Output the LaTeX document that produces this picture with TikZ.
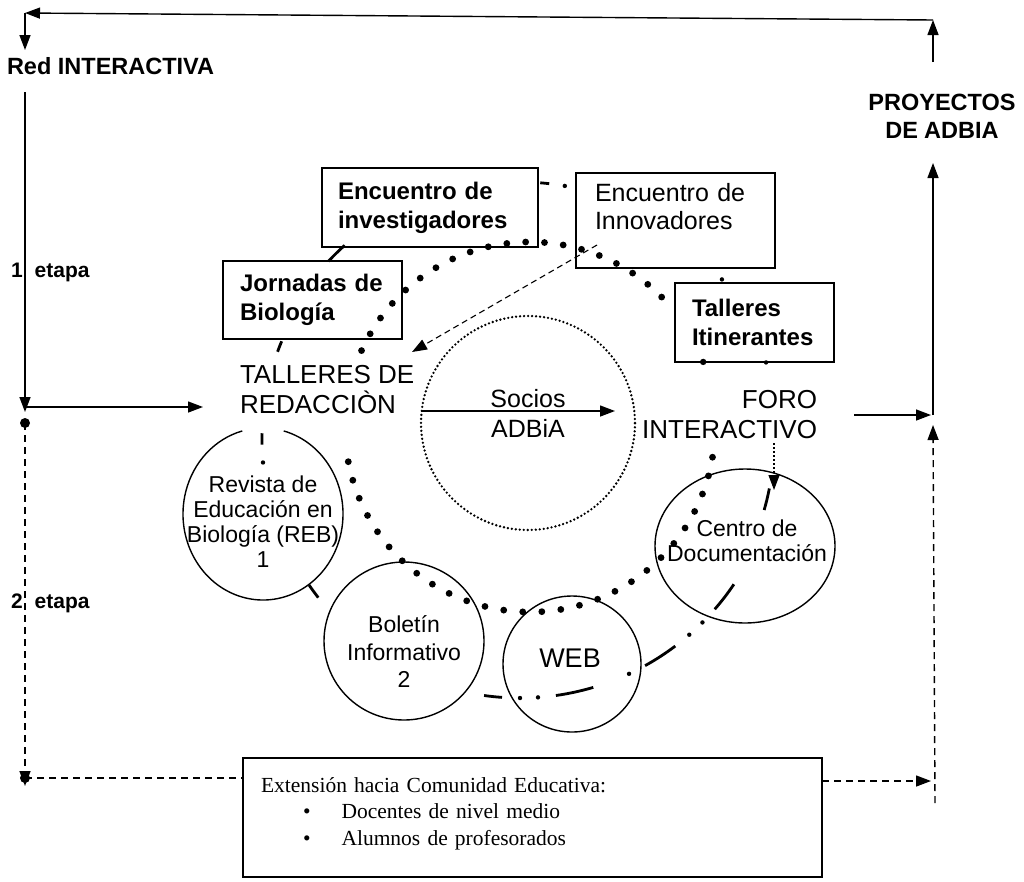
\documentclass[tikz,border=0pt]{standalone}
\usepackage{fontspec}
\setmainfont{Liberation Sans}
\newfontfamily\timesfont{Liberation Serif}
\usetikzlibrary{arrows.meta,shapes.geometric}
\begin{document}
\begin{tikzpicture}[x=1pt,y=-1pt,
  every node/.style={inner sep=0pt,outer sep=0pt},
  ln/.style={line width=1.4pt},
  arr/.style={line width=1.4pt,-{Triangle[length=15pt,width=11pt]}},
  dsh/.style={dash pattern=on 7pt off 5pt},
  hdr/.style={font=\fontsize{23.5}{28}\selectfont\bfseries},
  stage/.style={font=\fontsize{21}{25}\selectfont\bfseries,anchor=west},
  boxb/.style={draw,line width=1.4pt,align=left,font=\fontsize{24}{29}\selectfont\bfseries},
  boxr/.style={draw,line width=1.4pt,align=left,font=\fontsize{25}{28}\selectfont},
  big/.style={font=\fontsize{26}{30}\selectfont},
  circ/.style={ellipse,draw,line width=1.4pt},
  ctext/.style={align=center,font=\fontsize{23}{25}\selectfont},
  bigdots/.style={line width=6.8pt,line cap=round,dash pattern=on 0pt off #1},
  outer/.style={line width=2.8pt}
]
\useasboundingbox (0,0) rectangle (1024,881);
\fill[white] (0,0) rectangle (1024,881);

% ---------- frame coordinates ----------
\coordinate (tl) at (25,13);
\coordinate (tr) at (933,20);
\coordinate (redtip) at (25,50);
\coordinate (pu1) at (933,62);
\coordinate (lt) at (25,92);
\coordinate (lm) at (25,412);
\coordinate (hl) at (25,407);
\coordinate (talltip) at (203,407);
\coordinate (ldot) at (25,423);
\coordinate (lbot) at (25,778);
\coordinate (lbtip) at (25,786);
\coordinate (rtop) at (933,163);
\coordinate (rmid) at (933,415);
\coordinate (rup) at (933,425);
\coordinate (rbot) at (935,803);
\coordinate (rbarr) at (931,781);
\coordinate (dc) at (530,427);
\coordinate (oc) at (520,440);
\coordinate (innda) at (597,245);
\coordinate (tallda) at (412,352);
\coordinate (forda) at (774,443);
\coordinate (cenda) at (774,490);
\coordinate (soctip) at (615,411);

% ---------- labels of the frame ----------
\node[hdr,anchor=west] (red) at (7,66) {Red INTERACTIVA};
\node[hdr,align=center] (proy) at (942,116) {PROYECTOS\\DE\hspace{6pt}ADBIA};
\node[stage] (e1) at (11,272) {1\hspace{12pt}etapa};
\node[stage] (e2) at (11,603) {2\hspace{12pt}etapa};

% ---------- boxes ----------
\node[boxb,minimum width=216pt,minimum height=79pt,text width=184pt,inner xsep=16pt] (inv) at (430,207.5) {Encuentro de\\investigadores};
\node[boxr,minimum width=199pt,minimum height=95pt,text width=161pt,inner xsep=19pt] (inn) at (675.5,220.5) {Encuentro de\\Innovadores\\\mbox{}};
\node[boxb,minimum width=179pt,minimum height=78pt,text width=145pt,inner xsep=17pt] (jor) at (312.5,300) {Jornadas de\\Biología};
\node[boxb,minimum width=159pt,minimum height=79pt,text width=125pt,inner xsep=17pt] (tit) at (754.5,322.5) {Talleres\\Itinerantes};

% ---------- central labels ----------
\node[big,align=left,anchor=west] (tall) at (240,390) {TALLERES DE\\REDACCIÒN};
\node[big,align=right,anchor=east] (foro) at (817,415) {FORO\\INTERACTIVO};
\node[circle,draw,minimum size=214pt,line width=2.6pt,line cap=round,dash pattern=on 0pt off 4pt] (soc) at (528,423) {};
\node[align=center,font=\fontsize{25}{30}\selectfont] (socios) at (528,413) {Socios\\ADBiA};

% ---------- circles ----------
\node[ellipse,minimum width=160pt,minimum height=172pt] (reb) at (263,514) {};
\draw[ln] (reb.center) ++(285:80 and 86) arc[start angle=285,end angle=615,x radius=80,y radius=86];
\node[ctext] (rebt) at (263,522) {Revista de\\Educación en\\Biología (REB)\\1};
\node[circ,minimum width=160pt,minimum height=158pt] (bol) at (404,641) {};
\node[align=center,font=\fontsize{23}{27.5}\selectfont] (bolt) at (404,652) {Boletín\\Informativo\\2};
\node[circ,minimum width=138pt,minimum height=136pt] (web) at (572,664) {};
\node[font=\fontsize{27}{30}\selectfont] (webt) at (570,658) {WEB};
\node[circ,minimum width=180pt,minimum height=154pt] (cen) at (745,546) {};
\node[ctext] (cent) at (747,541) {Centro de\\Documentación};

% ---------- extension box ----------
\node[draw,line width=1.4pt,anchor=north west,minimum width=579pt,minimum height=119pt,text width=543pt,inner xsep=18pt,align=left,font=\timesfont\fontsize{21.5}{26.5}\selectfont] (ext) at (243,758)
 {Extensión hacia Comunidad Educativa:\\
  \hspace*{42pt}\textbullet\hspace{31pt}Docentes de nivel medio\\
  \hspace*{42pt}\textbullet\hspace{31pt}Alumnos de profesorados\\[-14pt]\mbox{}};

% ---------- big dotted ring ----------
\draw[bigdots=19.11pt] (dc) ++(9.4:185) arc[start angle=9.4,end angle=175.1,radius=185];
\draw[bigdots=18.86pt] (dc) ++(204.4:185) arc[start angle=204.4,end angle=321.2,radius=185];
\fill (dc) ++(339.4:185) circle[radius=3.2];

% ---------- faded dash-dot ring ----------
\foreach \a/\b in {34/41,53/61,73.5/82,94/98,179/181.5,200/202.5,274.5/276.5}
  {\draw[outer] (oc) ++(\a:258) arc[start angle=\a,end angle=\b,radius=258];}
\draw[outer] (oc) ++(142:256) arc[start angle=142,end angle=145.5,radius=256];
\draw[outer] (oc) ++(223:262) arc[start angle=223,end angle=228,radius=262];
\draw[outer] (oc) ++(11:254) arc[start angle=11,end angle=16,radius=254];
\foreach \a in {45,49,65,86,90,175,280,321.5,342.5}
  {\fill (oc) ++(\a:258) circle[radius=2.2];}

% ---------- frame connectors ----------
\draw[arr] (tr) -- (tl);
\draw[arr] (tl) -- (redtip);
\draw[arr] (pu1) -- (tr);
\draw[arr] (lt) -- (lm);
\draw[arr] (hl) -- (talltip);
\fill (ldot) circle[radius=5];
\draw[arr,dsh] (ldot) -- (lbtip);
\fill (lbot) circle[radius=5];
\draw[ln,dsh] (lbot) -- (lbot -| ext.west);
\draw[arr,dsh] (rbarr -| ext.east) -- (rbarr);
\draw[arr] (rmid) -- (rtop);
\draw[arr] ([xshift=37pt]foro.east) -- ([xshift=-2pt]rmid);
\draw[arr,dsh] (rbot) -- (rup);

% ---------- inner connectors ----------
\draw[arr] ([yshift=12pt]soc.west) -- (soctip);
\draw[arr,line width=1.1pt,dash pattern=on 6pt off 4pt] (innda) -- (tallda);
\draw[arr,line width=1.1pt,dash pattern=on 1.5pt off 2.5pt] (forda) -- (cenda);
\end{tikzpicture}
\end{document}
